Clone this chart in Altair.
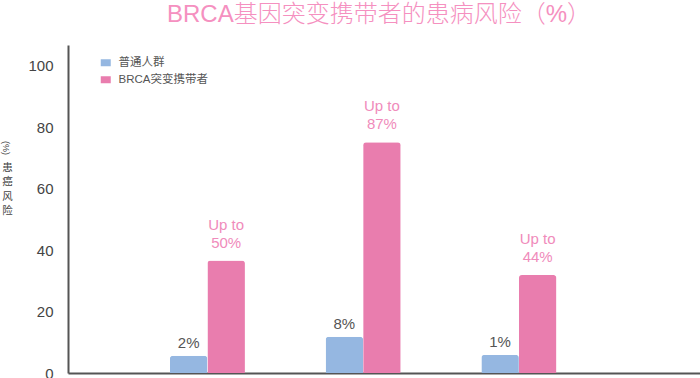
import altair as alt
import pandas as pd

groups = ["A", "B", "C"]
series = ["普通人群", "BRCA突变携带者"]
general_values = [5.6, 11.8, 5.9]
brca_values = [36.6, 75.1, 31.9]
general_labels = ["2%", "8%", "1%"]
brca_labels = ["Up to\n50%", "Up to\n87%", "Up to\n44%"]
y_ticks = [0, 20, 40, 60, 80, 100]
colors = ["#95b7e1", "#e97dae"]

rows = []
for g, v, l in zip(groups, general_values, general_labels):
    rows.append({"group": g, "series": series[0], "value": v, "label": l})
for g, v, l in zip(groups, brca_values, brca_labels):
    rows.append({"group": g, "series": series[1], "value": v, "label": l})
df = pd.DataFrame(rows)

yscale = alt.Scale(domain=[0, 106.8], nice=False, zero=True)
mixed_font = "Liberation Sans, Noto Sans CJK SC"

base = alt.Chart(df).encode(
    x=alt.X("group:N", sort=groups,
            scale=alt.Scale(paddingInner=0.518, paddingOuter=0.788, align=0.415),
            axis=alt.Axis(labels=False, ticks=False, title=None,
                          domainColor="#555555", domainWidth=2)),
    xOffset=alt.XOffset("series:N", sort=series,
                        scale=alt.Scale(paddingInner=0, paddingOuter=0)),
)

bars = base.mark_bar(cornerRadiusTopLeft=3, cornerRadiusTopRight=3).encode(
    y=alt.Y("value:Q", scale=yscale,
            axis=alt.Axis(values=y_ticks, ticks=False, grid=False, labelPadding=15,
                          labelFontSize=15, labelColor="#444444", labelFont="Liberation Sans",
                          domainColor="#555555", domainWidth=2,
                          title=["患", "癌", "风", "险"], titleAngle=0, titleX=-61, titleY=117,
                          titleAlign="center", titleBaseline="top", titleFontSize=10.5,
                          titleLineHeight=14.5, titleFontWeight="normal", titleColor="#444444",
                          titleFont="Noto Sans CJK SC")),
    color=alt.Color("series:N", sort=series,
                    scale=alt.Scale(domain=series, range=colors),
                    legend=alt.Legend(title=None, orient="none", legendX=32, legendY=12,
                                      symbolType="M-1,-0.7H1V0.7H-1Z", symbolSize=100,
                                      symbolStrokeWidth=0, symbolOpacity=1,
                                      labelFontSize=11.5, labelColor="#555555",
                                      labelFont=mixed_font, labelOffset=7,
                                      rowPadding=4)),
)

blue_text = base.transform_filter(alt.datum.series == series[0]).mark_text(
    baseline="bottom", dy=-5, fontSize=15, color="#555555", font="Liberation Sans"
).encode(y=alt.Y("value:Q", scale=yscale), text="label:N")

pink_text = base.transform_filter(alt.datum.series == series[1]).mark_text(
    baseline="bottom", dy=-28, fontSize=15, color="#f08bbb", font="Liberation Sans",
    lineBreak="\n", lineHeight=18
).encode(y=alt.Y("value:Q", scale=yscale), text="label:N")

unit = alt.Chart(pd.DataFrame({"t": ["(%)"]})).mark_text(
    angle=90, fontSize=9, color="#444444", font="Liberation Sans"
).encode(x=alt.value(-62), y=alt.value(103), text="t:N")

chart = alt.layer(bars, blue_text, pink_text, unit).properties(
    width=632, height=328,
    autosize=alt.AutoSizeParams(type="none"),
    padding={"left": 68, "top": 45, "right": 0, "bottom": 5},
    title=alt.TitleParams("BRCA基因突变携带者的患病风险（%）", fontSize=24, color="#f590c0",
                          font=mixed_font, fontWeight=300, anchor="middle",
                          offset=18, dx=-5),
    background="white",
).configure_view(stroke=None)

chart.save("out.html", embed_options={"renderer": "svg", "actions": False})
